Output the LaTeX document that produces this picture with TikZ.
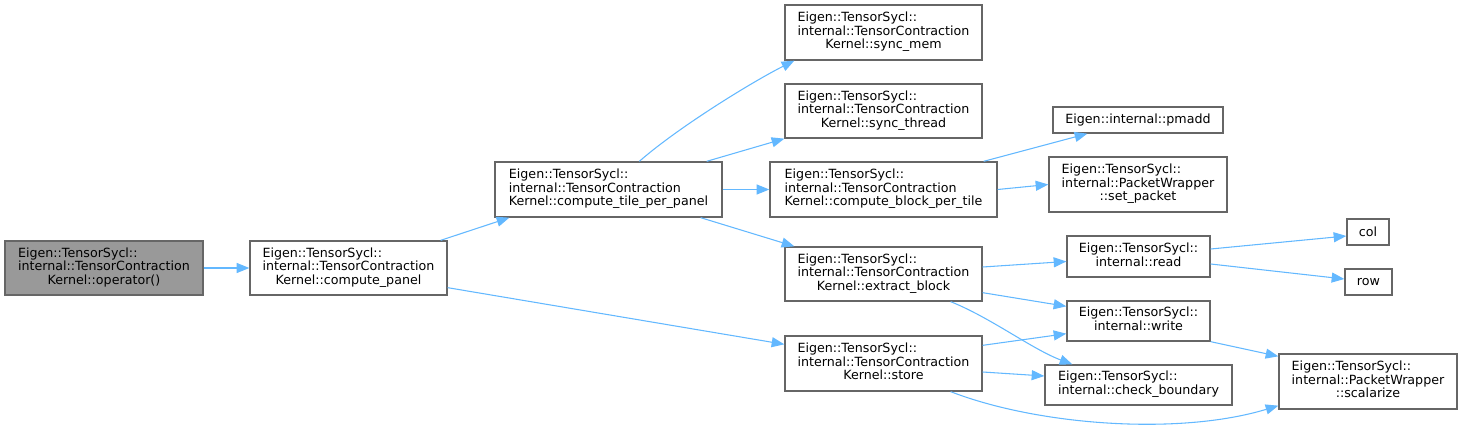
\documentclass[tikz,border=0pt]{standalone}
\usepackage{fontspec}
\setmainfont{DejaVu Sans}
\usetikzlibrary{arrows.meta}
\definecolor{edgeblue}{HTML}{63B8FF}
\definecolor{boxgray}{HTML}{666666}
\definecolor{opfill}{HTML}{999999}
\newcommand\threelines[3]{\begin{tabular}{@{}l@{}}#1\\#2\\\multicolumn{1}{@{}c@{}}{#3}\end{tabular}}
\newcommand\twolines[2]{\begin{tabular}{@{}l@{}}#1\\\multicolumn{1}{@{}c@{}}{#2}\end{tabular}}
\begin{document}
\begin{tikzpicture}[x=0.75pt,y=-0.75pt,
  box/.style={draw=boxgray, line width=1pt, fill=white, inner sep=0pt,
    font=\fontsize{9.5pt}{10.2pt}\selectfont, text=black},
  sz/.style 2 args={minimum width=#1*0.75pt, minimum height=#2*0.75pt},
  edge/.style={draw=edgeblue, line width=0.8pt, -{Triangle[length=9.5pt,width=7.5pt]}}]
\useasboundingbox (0,0) rectangle (1463,431);

\node[box, sz={198}{54}, fill=opfill] (op) at (104,268) {\threelines{Eigen::TensorSycl::}{internal::TensorContraction}{Kernel::operator()}};
\node[box, sz={197}{54}] (cp) at (348.5,268) {\threelines{Eigen::TensorSycl::}{internal::TensorContraction}{Kernel::compute\_panel}};
\node[box, sz={227}{55}] (ctpp) at (608.5,189.5) {\threelines{Eigen::TensorSycl::}{internal::TensorContraction}{Kernel::compute\_tile\_per\_panel}};
\node[box, sz={197}{55}] (sm) at (883.5,32.5) {\threelines{Eigen::TensorSycl::}{internal::TensorContraction}{Kernel::sync\_mem}};
\node[box, sz={197}{54}] (st) at (883.5,111) {\threelines{Eigen::TensorSycl::}{internal::TensorContraction}{Kernel::sync\_thread}};
\node[box, sz={227}{55}] (cbpt) at (883.5,189.5) {\threelines{Eigen::TensorSycl::}{internal::TensorContraction}{Kernel::compute\_block\_per\_tile}};
\node[box, sz={197}{54}] (eb) at (883.5,274) {\threelines{Eigen::TensorSycl::}{internal::TensorContraction}{Kernel::extract\_block}};
\node[box, sz={197}{55}] (store) at (883.5,363.5) {\threelines{Eigen::TensorSycl::}{internal::TensorContraction}{Kernel::store}};
\node[box, sz={143}{41}] (read) at (1138.5,256.5) {\twolines{Eigen::TensorSycl::}{internal::read}};
\node[box, sz={143}{40}] (write) at (1138.5,321) {\twolines{Eigen::TensorSycl::}{internal::write}};
\node[box, sz={187}{40}] (cb) at (1138.5,385) {\twolines{Eigen::TensorSycl::}{internal::check\_boundary}};
\node[box, sz={178}{55}] (scal) at (1368,381.5) {\threelines{Eigen::TensorSycl::}{internal::PacketWrapper}{::scalarize}};
\node[box, sz={170}{26}] (pmadd) at (1138,120) {Eigen::internal::pmadd};
\node[box, sz={178}{55}] (sp) at (1138,184.5) {\threelines{Eigen::TensorSycl::}{internal::PacketWrapper}{::set\_packet}};
\node[box, sz={42}{26}] (col) at (1368,232) {col};
\node[box, sz={47}{26}] (row) at (1368.5,282) {row};

\draw[edge] (op.east) -- (cp.west);
\draw[edge] ([xshift=-7*0.75pt]cp.north east) -- ([xshift=15*0.75pt]ctpp.south west);
\draw[edge] ([yshift=8*0.75pt]cp.south east) -- ([yshift=-9*0.75pt]store.north west);
\draw[edge] ([xshift=145*0.75pt]ctpp.north west) .. controls +(40,-35) and +(-40,20) .. ([xshift=10*0.75pt]sm.south west);
\draw[edge] ([xshift=-16*0.75pt]ctpp.north east) -- (st.south west);
\draw[edge] (ctpp.east) -- (cbpt.west);
\draw[edge] ([xshift=-22*0.75pt]ctpp.south east) -- ([xshift=10*0.75pt]eb.north west);
\draw[edge] ([xshift=-14*0.75pt]cbpt.north east) -- ([xshift=35*0.75pt]pmadd.south west);
\draw[edge] (cbpt.east) -- (sp.west);
\draw[edge] ([yshift=7*0.75pt]eb.east) -- ([yshift=-5*0.75pt]read.west);
\draw[edge] ([yshift=9*0.75pt]eb.south east) -- ([yshift=-6*0.75pt]write.north west);
\draw[edge] ([xshift=-32*0.75pt]eb.south east) .. controls +(40,16) and +(-40,-15) .. ([xshift=28*0.75pt]cb.north west);
\draw[edge] ([yshift=-10*0.75pt]store.north east) -- ([yshift=8*0.75pt]write.south west);
\draw[edge] ([yshift=-8.5*0.75pt]store.east) -- ([yshift=9*0.75pt]cb.west);
\draw[edge] ([xshift=-32*0.75pt]store.south east) .. controls +(88,34) and +(-99,30) .. ([yshift=4*0.75pt]scal.south west);
\draw[edge] ([yshift=7.5*0.75pt]read.east) -- ([yshift=-4*0.75pt]col.west);
\draw[edge] ([yshift=-7.5*0.75pt]read.east) -- ([yshift=3*0.75pt]row.west);
\draw[edge] (write.south east) -- ([yshift=-3*0.75pt]scal.north west);
\end{tikzpicture}
\end{document}
